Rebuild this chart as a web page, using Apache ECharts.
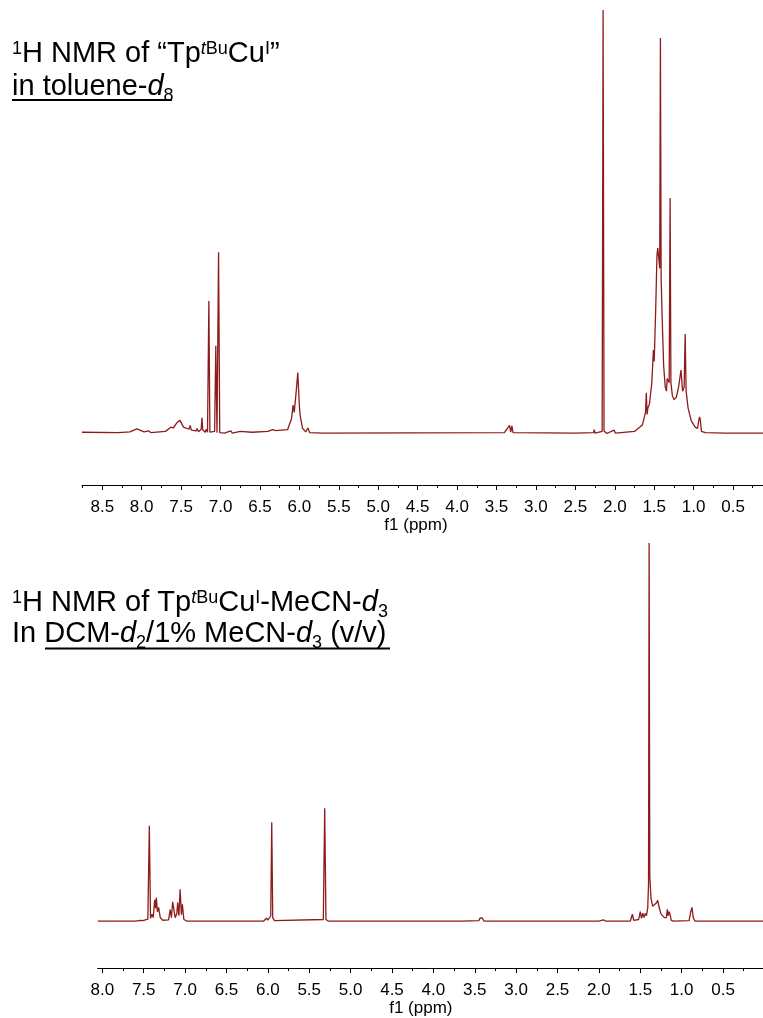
<!DOCTYPE html>
<html>
<head>
<meta charset="utf-8">
<script src="https://cdn.jsdelivr.net/npm/echarts@6/dist/echarts.min.js"></script>
<style>
  html, body { margin: 0; padding: 0; background: #fff; }
  #chart { width: 763px; height: 1018px; }
</style>
</head>
<body>
<div id="chart"></div>
<script>
// 1H NMR trace of "TptBuCuI" in toluene-d8 (ppm, intensity)
const topPpm = [
  8.757, 8.30, 8.15, 8.06, 7.97, 7.91, 7.88, 7.70, 7.63, 7.60, 7.55, 7.515, 7.47,
  7.40, 7.385, 7.37, 7.31, 7.30, 7.28, 7.245, 7.236, 7.225, 7.195, 7.18, 7.165,
  7.148, 7.135, 7.075, 7.06, 7.045, 7.025, 7.01, 6.95, 6.87, 6.85, 6.75, 6.60,
  6.40, 6.34, 6.30, 6.15, 6.10, 6.08, 6.065, 6.04, 6.02, 6.00, 5.99, 5.96, 5.92,
  5.89, 5.87, 5.70, 3.40, 3.335, 3.32, 3.305, 3.29, 2.50, 2.27, 2.26, 2.25, 2.16,
  2.148, 2.136, 2.10, 2.01, 1.99, 1.75, 1.65, 1.61, 1.60, 1.59, 1.58, 1.56, 1.53,
  1.51, 1.50, 1.48, 1.465, 1.455, 1.445, 1.43, 1.421, 1.412, 1.40, 1.38, 1.36,
  1.345, 1.335, 1.31, 1.298, 1.288, 1.27, 1.25, 1.22, 1.19, 1.16, 1.14, 1.12,
  1.107, 1.095, 1.07, 1.03, 0.98, 0.95, 0.935, 0.925, 0.915, 0.90, 0.85, 0.60, 0.12
];
const topIntensity = [
  0.3, 0.2, 0.4, 1.1, 0.4, 0.6, 0.2, 0.5, 1.5, 1.3, 2.6, 3.1, 1.5,
  1.0, 1.9, 0.8, 0.6, 1.2, 0.4, 1.0, 3.7, 0.9, 0.3, 1.0, 0.3,
  31.3, 0.3, 0.5, 20.7, 0.2, 42.8, 0.2, 0.1, 0.6, 0.1, 0.5, 0.3,
  0.5, 0.9, 0.7, 0.9, 3.5, 6.7, 5.0, 10.0, 14.4, 6.5, 4.2, 1.2, 0.4,
  1.3, 0.2, 0.1, 0.2, 1.9, 0.3, 1.8, 0.2, 0.1, 0.2, 0.9, 0.1, 0.5,
  100, 0.6, 0.0, 0.8, 0.1, 0.5, 2.0, 5.0, 9.6, 4.5, 6.0, 7.0, 12.0,
  19.7, 17.0, 30.0, 42.0, 43.8, 42.0, 39.0, 93.4, 37.0, 28.0, 16.0, 11.0,
  10.0, 13.0, 12.0, 55.6, 12.0, 9.0, 8.0, 8.5, 11.0, 15.0, 10.0, 11.0,
  23.5, 10.0, 6.0, 3.0, 1.5, 1.2, 3.0, 3.9, 3.2, 0.5, 0.2, 0.1, 0.1
];

// 1H NMR trace of TptBuCuI-MeCN-d3 in DCM-d2 / 1% MeCN-d3 (ppm, intensity)
const bottomPpm = [
  8.056, 7.60, 7.54, 7.524, 7.51, 7.45, 7.432, 7.418, 7.40, 7.385, 7.367, 7.357,
  7.347, 7.335, 7.32, 7.30, 7.27, 7.20, 7.18, 7.165, 7.15, 7.12, 7.10, 7.09,
  7.075, 7.06, 7.045, 7.033, 7.015, 6.98, 6.05, 6.014, 6.00, 5.965, 5.953, 5.941,
  5.92, 5.33, 5.313, 5.298, 5.27, 4.20, 3.70, 3.68, 3.66, 3.45, 3.435, 3.425,
  3.41, 3.39, 2.00, 1.946, 1.92, 1.83, 1.81, 1.79, 1.62, 1.595, 1.58, 1.52,
  1.50, 1.485, 1.47, 1.455, 1.44, 1.425, 1.41, 1.40, 1.393, 1.385, 1.37, 1.35,
  1.33, 1.30, 1.29, 1.275, 1.25, 1.21, 1.185, 1.173, 1.163, 1.15, 1.14, 1.125,
  1.10, 0.91, 0.89, 0.875, 0.86, 0.84, 0.017
];
const bottomIntensity = [
  0.1, 0.1, 0.3, 0.8, 0.2, 0.6, 25.3, 0.8, 1.9, 1.0, 5.7, 3.5,
  6.3, 2.5, 3.7, 1.0, 0.3, 0.4, 3.1, 1.0, 5.2, 1.0, 2.0, 5.0,
  1.5, 8.5, 1.8, 4.5, 0.5, 0.1, 0.1, 0.9, 0.3, 1.5, 26.2, 1.0,
  0.2, 0.5, 29.9, 0.5, 0.1, 0.1, 0.1, 0.6, 0.1, 0.2, 0.9, 0.4,
  0.9, 0.1, 0.1, 0.4, 0.1, 0.1, 0.6, 0.1, 0.1, 1.9, 0.3, 0.5,
  2.6, 0.8, 2.2, 1.0, 2.1, 1.5, 3.5, 10.0, 100, 12.0, 6.0, 4.0,
  3.5, 5.0, 5.6, 4.0, 2.0, 1.0, 1.0, 3.2, 1.5, 2.6, 1.8, 0.3,
  0.1, 0.2, 2.6, 3.7, 1.0, 0.1, 0.1
];

// Axis tick labels (ppm)
const topTickLabels = ['8.5', '8.0', '7.5', '7.0', '6.5', '6.0', '5.5', '5.0', '4.5',
  '4.0', '3.5', '3.0', '2.5', '2.0', '1.5', '1.0', '0.5'];
const bottomTickLabels = ['8.0', '7.5', '7.0', '6.5', '6.0', '5.5', '5.0', '4.5',
  '4.0', '3.5', '3.0', '2.5', '2.0', '1.5', '1.0', '0.5'];

const FONT = "'Liberation Sans', Arial, Helvetica, sans-serif";
const TRACE = '#8e1b1b';

const pairs = (xs, ys) => xs.map((x, i) => [x, ys[i]]);
const majors = labels => labels.map(Number);
const minors = labels => labels.map(l => Number(l) + 0.25).concat([Number(labels[labels.length - 1]) - 0.25]);

function ppmAxes(gridIndex, min, max, labels, namePadRight) {
  return [
    {
      type: 'value', gridIndex, inverse: true, min, max, position: 'bottom',
      splitLine: { show: false },
      axisLine: { show: true, onZero: false, lineStyle: { color: '#000', width: 1 } },
      axisTick: { show: true, inside: false, length: 5, customValues: majors(labels),
        lineStyle: { color: '#000', width: 1 } },
      axisLabel: { show: true, customValues: majors(labels), margin: 14,
        formatter: v => v.toFixed(1), color: '#000', fontSize: 17, fontFamily: FONT },
      name: 'f1 (ppm)', nameLocation: 'middle', nameGap: 31,
      nameTextStyle: { color: '#000', fontSize: 17, fontFamily: FONT,
        padding: [0, namePadRight, 0, 0] }
    },
    {
      type: 'value', gridIndex, inverse: true, min, max, position: 'bottom', offset: 0,
      splitLine: { show: false },
      axisLine: { show: false, onZero: false },
      axisTick: { show: true, inside: false, length: 3, customValues: minors(labels),
        lineStyle: { color: '#000', width: 1 } },
      axisLabel: { show: false }
    }
  ];
}

// Title text: runs of normal, italic, superscript and subscript pieces laid out left to right
const measureCtx = document.createElement('canvas').getContext('2d');
const MAIN = 29, SMALL = 18;
function fontOf(size, italic) { return (italic ? 'italic ' : '') + size + 'px ' + FONT; }
function titleRun(x0, baseline, parts) {
  const out = [];
  let x = x0;
  parts.forEach(([text, kind]) => {
    const small = kind === 'sup' || kind === 'supi' || kind === 'sub';
    const italic = kind === 'i' || kind === 'supi';
    const size = small ? SMALL : MAIN;
    const shift = (kind === 'sup' || kind === 'supi') ? -8 : kind === 'sub' ? 6 : 0;
    const font = fontOf(size, italic);
    out.push({
      type: 'text', x, y: baseline + shift - 0.31 * size, silent: true,
      style: { text, font, fill: '#000', align: 'left', verticalAlign: 'middle' }
    });
    measureCtx.font = font;
    x += measureCtx.measureText(text).width;
  });
  return out;
}

const chart = echarts.init(document.getElementById('chart'), null, { renderer: 'canvas' });
chart.setOption({
  animation: false,
  backgroundColor: '#fff',
  grid: [
    { left: 82, right: 0, top: 10, height: 475 },
    { left: 97.7, right: 0, top: 543, height: 428 }
  ],
  xAxis: [
    ...ppmAxes(0, 0.12, 8.757, topTickLabels, 13),
    ...ppmAxes(1, 0.017, 8.056, bottomTickLabels, 19)
  ],
  yAxis: [
    { type: 'value', gridIndex: 0, min: -12.16, max: 100, show: false, splitLine: { show: false } },
    { type: 'value', gridIndex: 1, min: -12.34, max: 100, show: false, splitLine: { show: false } }
  ],
  series: [
    { type: 'line', xAxisIndex: 0, yAxisIndex: 0, data: pairs(topPpm, topIntensity),
      showSymbol: false, symbol: 'none', sampling: null, smooth: false,
      lineStyle: { color: TRACE, width: 1.3 } },
    { type: 'line', xAxisIndex: 2, yAxisIndex: 1, data: pairs(bottomPpm, bottomIntensity),
      showSymbol: false, symbol: 'none', sampling: null, smooth: false,
      lineStyle: { color: TRACE, width: 1.3 } }
  ],
  graphic: [
    ...titleRun(12, 63, [['1', 'sup'], ['H NMR of \u201CTp', 'n'], ['t', 'supi'], ['Bu', 'sup'],
      ['Cu', 'n'], ['I', 'sup'], ['\u201D', 'n']]),
    ...titleRun(12, 96, [['in toluene-', 'n'], ['d', 'i'], ['8', 'sub']]),
    ...titleRun(12, 612, [['1', 'sup'], ['H NMR of Tp', 'n'], ['t', 'supi'], ['Bu', 'sup'],
      ['Cu', 'n'], ['I', 'sup'], ['-MeCN-', 'n'], ['d', 'i'], ['3', 'sub']]),
    ...titleRun(12, 643, [['In DCM-', 'n'], ['d', 'i'], ['2', 'sub'], ['/1% MeCN-', 'n'],
      ['d', 'i'], ['3', 'sub'], [' (v/v)', 'n']]),
    { type: 'line', silent: true, shape: { x1: 12, y1: 100, x2: 172, y2: 100 },
      style: { stroke: '#000', lineWidth: 2 } },
    { type: 'line', silent: true, shape: { x1: 45, y1: 648.5, x2: 390, y2: 648.5 },
      style: { stroke: '#000', lineWidth: 2 } }
  ]
});
</script>
</body>
</html>
